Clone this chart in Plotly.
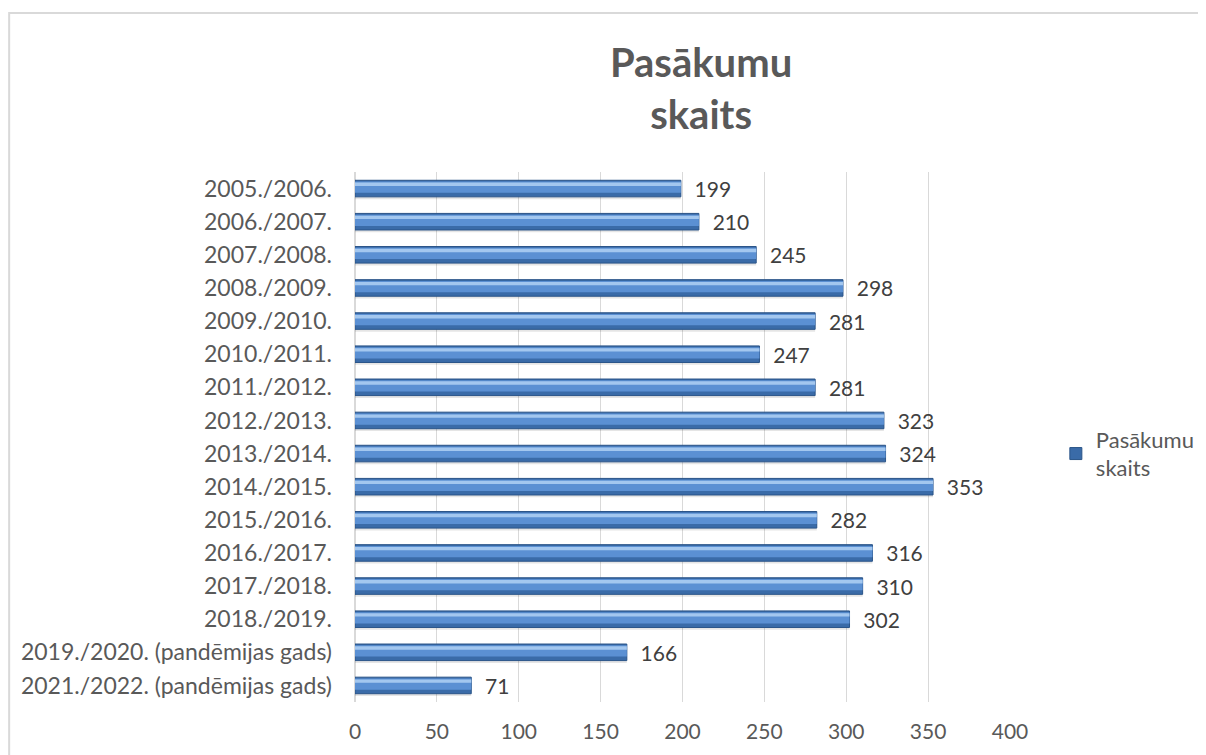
import plotly.graph_objects as go

# Dati
gadi = [
    "2005./2006.", "2006./2007.", "2007./2008.", "2008./2009.", "2009./2010.",
    "2010./2011.", "2011./2012.", "2012./2013.", "2013./2014.", "2014./2015.",
    "2015./2016.", "2016./2017.", "2017./2018.", "2018./2019.",
    "2019./2020. (pandēmijas gads)", "2021./2022. (pandēmijas gads)",
]
skaits = [199, 210, 245, 298, 281, 247, 281, 323, 324, 353, 282, 316, 310, 302, 166, 71]
x_ticks = [0, 50, 100, 150, 200, 250, 300, 350, 400]

FONT = "Lato, Open Sans, sans-serif"
TEXT = "#404040"
GRAY = "#595959"

fig = go.Figure()

# ēna zem stabiņiem
fig.add_trace(go.Bar(
    x=skaits, y=gadi, orientation="h",
    width=0.52, offset=-0.2,
    marker=dict(color="rgba(0,0,0,0.10)", line=dict(width=0)),
    showlegend=False, hoverinfo="skip",
))

# pamatstabiņš
fig.add_trace(go.Bar(
    x=skaits, y=gadi, orientation="h",
    width=0.5, offset=-0.25,
    marker=dict(color="#3A6BA8", line=dict(color="#2A5488", width=1)),
    text=skaits, texttemplate="  %{x}", textposition="outside",
    constraintext="none",
    textfont=dict(family=FONT, size=21, color=TEXT),
    cliponaxis=False,
    name="Pasākumu<br>skaits",
))

# vidējā josla
fig.add_trace(go.Bar(
    x=skaits, y=gadi, orientation="h",
    width=0.34, offset=-0.21,
    marker=dict(color="#5B90D3", line=dict(width=0)),
    showlegend=False, hoverinfo="skip",
))

# gaišā atspīduma josla
fig.add_trace(go.Bar(
    x=skaits, y=gadi, orientation="h",
    width=0.1, offset=-0.18,
    marker=dict(color="#A3C7EF", line=dict(width=0)),
    showlegend=False, hoverinfo="skip",
))

fig.update_layout(
    width=1206, height=755,
    barmode="overlay",
    paper_bgcolor="white", plot_bgcolor="white",
    font=dict(family=FONT, color=TEXT, size=20),
    title=dict(
        text="<b>Pasākumu<br>skaits</b>",
        x=0.5747, xanchor="center", y=0.909, yanchor="top",
        font=dict(family=FONT, size=40, color=GRAY),
    ),
    xaxis=dict(
        range=[0, 400], tickvals=x_ticks,
        showgrid=True, gridcolor="#D9D9D9", gridwidth=1,
        zeroline=True, zerolinecolor="#D9D9D9",
        showline=False, ticks="", automargin=False,
        ticklabelstandoff=15,
        tickfont=dict(family=FONT, size=21, color=GRAY),
    ),
    yaxis=dict(
        autorange="reversed", showgrid=False, ticks="", automargin=False,
        ticklabelstandoff=22,
        tickfont=dict(family=FONT, size=23, color=GRAY),
    ),
    legend=dict(
        x=1.07, y=0.535, xanchor="left", yanchor="top",
        font=dict(family=FONT, size=22, color=GRAY),
        bgcolor="rgba(0,0,0,0)",
    ),
    margin=dict(l=347, r=204, t=164, b=61, autoexpand=False),
    shapes=[dict(
        type="rect", xref="paper", yref="paper",
        x0=-0.528, x1=1.5, y0=-0.2, y1=1.30,
        line=dict(color="#D9D9D9", width=2), fillcolor="rgba(0,0,0,0)",
        layer="below",
    )],
)

fig.write_html("out.html")
